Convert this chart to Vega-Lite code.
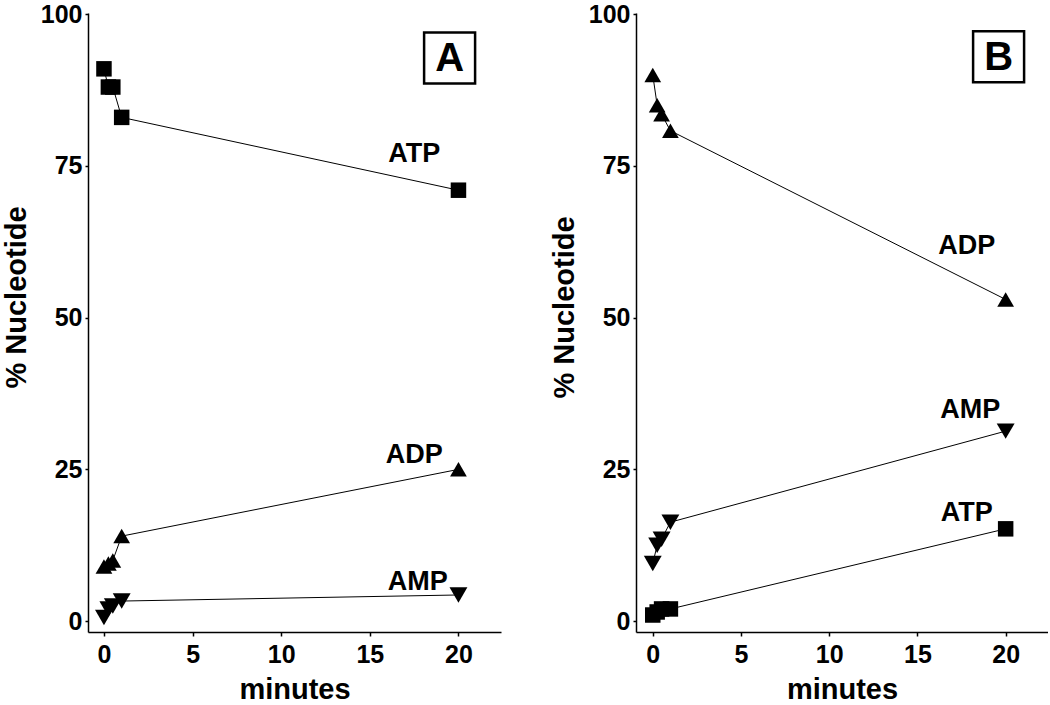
{
  "$schema": "https://vega.github.io/schema/vega-lite/v6.json",
  "padding": {"left": 2, "top": 2, "right": 0, "bottom": 0},
  "background": "white",
  "spacing": 49,
  "datasets": {
    "pts": [
      {"panel": "A", "series": "ATP", "minutes": 0, "pct": 91},
      {"panel": "A", "series": "ATP", "minutes": 0.25, "pct": 88},
      {"panel": "A", "series": "ATP", "minutes": 0.5, "pct": 88},
      {"panel": "A", "series": "ATP", "minutes": 1, "pct": 83},
      {"panel": "A", "series": "ATP", "minutes": 20, "pct": 71},
      {"panel": "A", "series": "ADP", "minutes": 0, "pct": 9},
      {"panel": "A", "series": "ADP", "minutes": 0.25, "pct": 9.5},
      {"panel": "A", "series": "ADP", "minutes": 0.5, "pct": 10},
      {"panel": "A", "series": "ADP", "minutes": 1, "pct": 14},
      {"panel": "A", "series": "ADP", "minutes": 20, "pct": 25},
      {"panel": "A", "series": "AMP", "minutes": 0, "pct": 0.6},
      {"panel": "A", "series": "AMP", "minutes": 0.25, "pct": 2},
      {"panel": "A", "series": "AMP", "minutes": 0.5, "pct": 2.5},
      {"panel": "A", "series": "AMP", "minutes": 1, "pct": 3.3},
      {"panel": "A", "series": "AMP", "minutes": 20, "pct": 4.3},
      {"panel": "B", "series": "ADP", "minutes": 0, "pct": 90},
      {"panel": "B", "series": "ADP", "minutes": 0.25, "pct": 85},
      {"panel": "B", "series": "ADP", "minutes": 0.5, "pct": 83.5},
      {"panel": "B", "series": "ADP", "minutes": 1, "pct": 80.8},
      {"panel": "B", "series": "ADP", "minutes": 20, "pct": 53},
      {"panel": "B", "series": "AMP", "minutes": 0, "pct": 9.5},
      {"panel": "B", "series": "AMP", "minutes": 0.25, "pct": 12.5},
      {"panel": "B", "series": "AMP", "minutes": 0.5, "pct": 13.5},
      {"panel": "B", "series": "AMP", "minutes": 1, "pct": 16.3},
      {"panel": "B", "series": "AMP", "minutes": 20, "pct": 31.3},
      {"panel": "B", "series": "ATP", "minutes": 0, "pct": 1},
      {"panel": "B", "series": "ATP", "minutes": 0.25, "pct": 1.5},
      {"panel": "B", "series": "ATP", "minutes": 0.5, "pct": 2},
      {"panel": "B", "series": "ATP", "minutes": 1, "pct": 2},
      {"panel": "B", "series": "ATP", "minutes": 20, "pct": 15.2}
    ],
    "labels": [
      {"panel": "A", "text": "ATP", "minutes": 17.5, "pct": 77},
      {"panel": "A", "text": "ADP", "minutes": 17.5, "pct": 27.4},
      {"panel": "A", "text": "AMP", "minutes": 17.7, "pct": 6.4},
      {"panel": "B", "text": "ADP", "minutes": 17.8, "pct": 61.8},
      {"panel": "B", "text": "AMP", "minutes": 18.0, "pct": 34.7},
      {"panel": "B", "text": "ATP", "minutes": 17.8, "pct": 17.8}
    ],
    "boxes": [
      {"panel": "A", "text": "A", "minutes": 19.5, "pct": 92.8},
      {"panel": "B", "text": "B", "minutes": 19.6, "pct": 93}
    ]
  },
  "hconcat": [
    {
      "width": 413,
      "height": 619,
      "encoding": {
        "x": {"field": "minutes", "type": "quantitative", "scale": {"domain": [-0.9, 22.4], "nice": false, "zero": false}, "axis": {"values": [0, 5, 10, 15, 20], "title": "minutes"}},
        "y": {"field": "pct", "type": "quantitative", "scale": {"domain": [-1.8, 100.2], "nice": false, "zero": false}, "axis": {"values": [0, 25, 50, 75, 100], "title": "% Nucleotide", "titleY": 284}}
      },
      "layer": [
        {
          "data": {"name": "pts"},
          "transform": [{"filter": "datum.panel === 'A'"}],
          "mark": {"type": "line", "color": "black", "strokeWidth": 1},
          "encoding": {"detail": {"field": "series"}, "order": {"field": "minutes", "type": "quantitative"}}
        },
        {
          "data": {"name": "pts"},
          "transform": [{"filter": "datum.panel === 'A'"}],
          "mark": {"type": "point", "filled": true, "color": "black", "opacity": 1},
          "encoding": {
            "shape": {"field": "series", "type": "nominal", "scale": {"domain": ["ATP", "ADP", "AMP"], "range": ["square", "triangle-up", "triangle-down"]}, "legend": null},
            "size": {"field": "series", "type": "nominal", "scale": {"domain": ["ATP", "ADP", "AMP"], "range": [240, 320, 320]}, "legend": null}
          }
        },
        {
          "data": {"name": "labels"},
          "transform": [{"filter": "datum.panel === 'A'"}],
          "mark": {"type": "text", "fontSize": 27, "fontWeight": "bold", "color": "black", "align": "center", "baseline": "middle"},
          "encoding": {"text": {"field": "text"}}
        },
        {
          "data": {"name": "boxes"},
          "transform": [{"filter": "datum.panel === 'A'"}],
          "mark": {"type": "point", "shape": "square", "filled": false, "color": "black", "strokeWidth": 2.5, "size": 2600, "opacity": 1}
        },
        {
          "data": {"name": "boxes"},
          "transform": [{"filter": "datum.panel === 'A'"}],
          "mark": {"type": "text", "fontSize": 40, "fontWeight": "bold", "color": "black", "align": "center", "baseline": "middle", "dy": 1},
          "encoding": {"text": {"field": "text"}}
        }
      ]
    },
    {
      "width": 412,
      "height": 619,
      "encoding": {
        "x": {"field": "minutes", "type": "quantitative", "scale": {"domain": [-0.95, 22.4], "nice": false, "zero": false}, "axis": {"values": [0, 5, 10, 15, 20], "title": "minutes"}},
        "y": {"field": "pct", "type": "quantitative", "scale": {"domain": [-1.8, 100.2], "nice": false, "zero": false}, "axis": {"values": [0, 25, 50, 75, 100], "title": "% Nucleotide", "titleY": 294}}
      },
      "layer": [
        {
          "data": {"name": "pts"},
          "transform": [{"filter": "datum.panel === 'B'"}],
          "mark": {"type": "line", "color": "black", "strokeWidth": 1},
          "encoding": {"detail": {"field": "series"}, "order": {"field": "minutes", "type": "quantitative"}}
        },
        {
          "data": {"name": "pts"},
          "transform": [{"filter": "datum.panel === 'B'"}],
          "mark": {"type": "point", "filled": true, "color": "black", "opacity": 1},
          "encoding": {
            "shape": {"field": "series", "type": "nominal", "scale": {"domain": ["ATP", "ADP", "AMP"], "range": ["square", "triangle-up", "triangle-down"]}, "legend": null},
            "size": {"field": "series", "type": "nominal", "scale": {"domain": ["ATP", "ADP", "AMP"], "range": [240, 320, 320]}, "legend": null}
          }
        },
        {
          "data": {"name": "labels"},
          "transform": [{"filter": "datum.panel === 'B'"}],
          "mark": {"type": "text", "fontSize": 27, "fontWeight": "bold", "color": "black", "align": "center", "baseline": "middle"},
          "encoding": {"text": {"field": "text"}}
        },
        {
          "data": {"name": "boxes"},
          "transform": [{"filter": "datum.panel === 'B'"}],
          "mark": {"type": "point", "shape": "square", "filled": false, "color": "black", "strokeWidth": 2.5, "size": 2600, "opacity": 1}
        },
        {
          "data": {"name": "boxes"},
          "transform": [{"filter": "datum.panel === 'B'"}],
          "mark": {"type": "text", "fontSize": 40, "fontWeight": "bold", "color": "black", "align": "center", "baseline": "middle", "dy": 1},
          "encoding": {"text": {"field": "text"}}
        }
      ]
    }
  ],
  "config": {
    "font": "Liberation Sans",
    "view": {"stroke": null},
    "axis": {
      "grid": false,
      "domainColor": "black",
      "domainWidth": 1.5,
      "tickColor": "black",
      "tickWidth": 1.5,
      "labelColor": "black",
      "titleColor": "black",
      "labelFont": "Liberation Sans",
      "titleFont": "Liberation Sans",
      "labelFontSize": 25,
      "labelFontWeight": "bold",
      "titleFontSize": 29,
      "titleFontWeight": "bold"
    },
    "axisY": {"tickSize": 3, "labelPadding": 3, "titlePadding": 9},
    "axisX": {"tickSize": 4, "labelPadding": 6, "titlePadding": 8}
  }
}
